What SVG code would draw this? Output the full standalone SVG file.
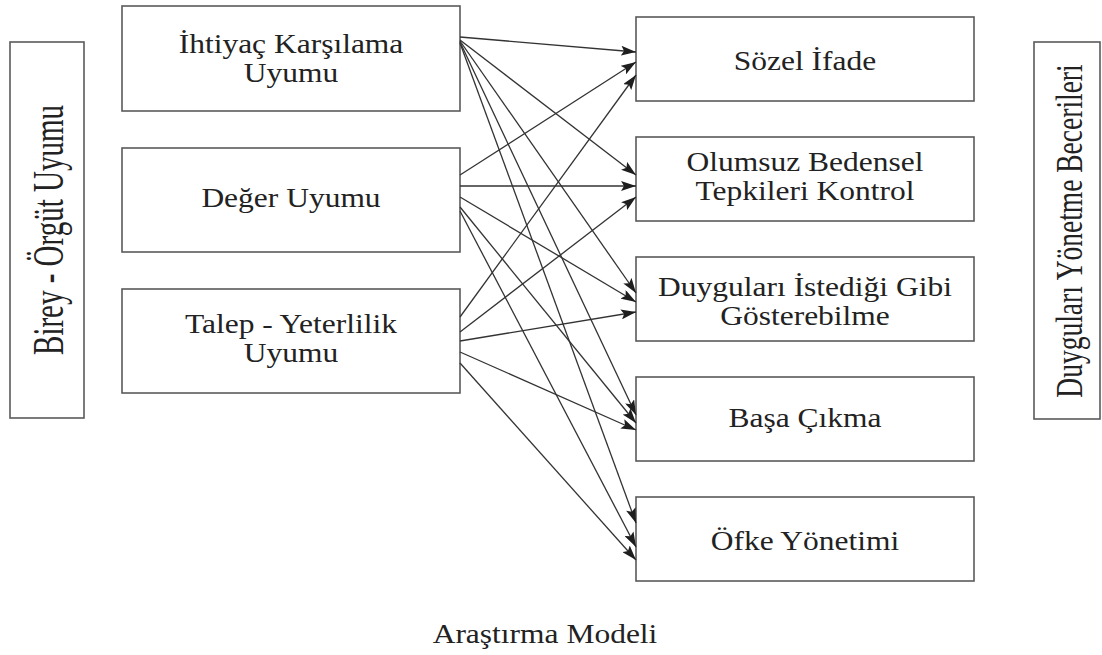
<svg xmlns="http://www.w3.org/2000/svg" width="1102" height="655" viewBox="0 0 1102 655">
  <style>
    .box { fill: #ffffff; stroke: #5a5a5a; stroke-width: 1.6; }
    .lbl { font-family: "Liberation Serif", "Times New Roman", serif; font-size: 31.5px; fill: #222222; text-anchor: middle; }
    .side { font-family: "Liberation Serif", "Times New Roman", serif; fill: #222222; text-anchor: middle; }
    .edge { stroke: #333333; stroke-width: 1.3; fill: none; marker-end: url(#arrow); }
  </style>
  <defs>
    <marker id="arrow" markerUnits="userSpaceOnUse" markerWidth="15" markerHeight="10" viewBox="0 0 15 10" refX="15" refY="5" orient="auto">
      <path d="M0,0 L15,5 L0,10 L3,5 Z" fill="#1e1e1e"/>
    </marker>
  </defs>

  <rect width="1102" height="655" fill="#ffffff"/>

  <!-- outer construct frames -->
  <g id="birey-orgut">
    <rect class="box" x="10" y="42" width="74" height="376"/>
    <text class="side" font-size="29" transform="translate(63,230) rotate(-90) scale(1,1.5)">Birey - Örgüt Uyumu</text>
  </g>
  <g id="duygu-yonetme">
    <rect class="box" x="1034" y="42" width="66" height="377"/>
    <text class="side" font-size="27.5" transform="translate(1082,231) rotate(-90) scale(1,1.35)">Duyguları Yönetme Becerileri</text>
  </g>

  <!-- independent variables -->
  <g id="ihtiyac">
    <rect class="box" x="122" y="6" width="338" height="105"/>
    <text class="lbl" transform="translate(291,53) scale(1,0.85)">İhtiyaç Karşılama</text>
    <text class="lbl" transform="translate(291,82) scale(1,0.85)">Uyumu</text>
  </g>
  <g id="deger">
    <rect class="box" x="122" y="148" width="338" height="104"/>
    <text class="lbl" transform="translate(291,207) scale(1,0.85)">Değer Uyumu</text>
  </g>
  <g id="talep">
    <rect class="box" x="122" y="289" width="338" height="104"/>
    <text class="lbl" transform="translate(291,333) scale(1,0.85)">Talep - Yeterlilik</text>
    <text class="lbl" transform="translate(291,362) scale(1,0.85)">Uyumu</text>
  </g>

  <!-- dependent variables -->
  <g id="sozel">
    <rect class="box" x="636" y="17" width="338" height="84"/>
    <text class="lbl" transform="translate(805,70) scale(1,0.85)">Sözel İfade</text>
  </g>
  <g id="olumsuz">
    <rect class="box" x="636" y="137" width="338" height="84"/>
    <text class="lbl" transform="translate(805,171) scale(1,0.85)">Olumsuz Bedensel</text>
    <text class="lbl" transform="translate(805,200) scale(1,0.85)">Tepkileri Kontrol</text>
  </g>
  <g id="duygulari">
    <rect class="box" x="636" y="257" width="338" height="84"/>
    <text class="lbl" transform="translate(805,296) scale(1,0.85)">Duyguları İstediği Gibi</text>
    <text class="lbl" transform="translate(805,325) scale(1,0.85)">Gösterebilme</text>
  </g>
  <g id="basa">
    <rect class="box" x="636" y="377" width="338" height="84"/>
    <text class="lbl" transform="translate(805,427) scale(1,0.85)">Başa Çıkma</text>
  </g>
  <g id="ofke">
    <rect class="box" x="636" y="497" width="338" height="84"/>
    <text class="lbl" transform="translate(805,550) scale(1,0.85)">Öfke Yönetimi</text>
  </g>

  <!-- paths from each fit dimension to each skill -->
  <g id="connectors">
    <line class="edge" x1="460" y1="37" x2="636" y2="52"/>
    <line class="edge" x1="460" y1="40" x2="636" y2="175"/>
    <line class="edge" x1="460" y1="41" x2="636" y2="293"/>
    <line class="edge" x1="460" y1="42" x2="636" y2="415"/>
    <line class="edge" x1="460" y1="43" x2="636" y2="523"/>

    <line class="edge" x1="460" y1="175" x2="636" y2="62"/>
    <line class="edge" x1="460" y1="186" x2="636" y2="186"/>
    <line class="edge" x1="460" y1="197" x2="636" y2="302"/>
    <line class="edge" x1="460" y1="207" x2="636" y2="423"/>
    <line class="edge" x1="460" y1="211" x2="636" y2="547"/>

    <line class="edge" x1="460" y1="317" x2="636" y2="75"/>
    <line class="edge" x1="460" y1="332" x2="636" y2="197"/>
    <line class="edge" x1="460" y1="341" x2="636" y2="312"/>
    <line class="edge" x1="460" y1="352" x2="636" y2="430"/>
    <line class="edge" x1="460" y1="363" x2="636" y2="560"/>
  </g>

  <text class="lbl" transform="translate(545,643) scale(1,0.85)">Araştırma Modeli</text>
</svg>
